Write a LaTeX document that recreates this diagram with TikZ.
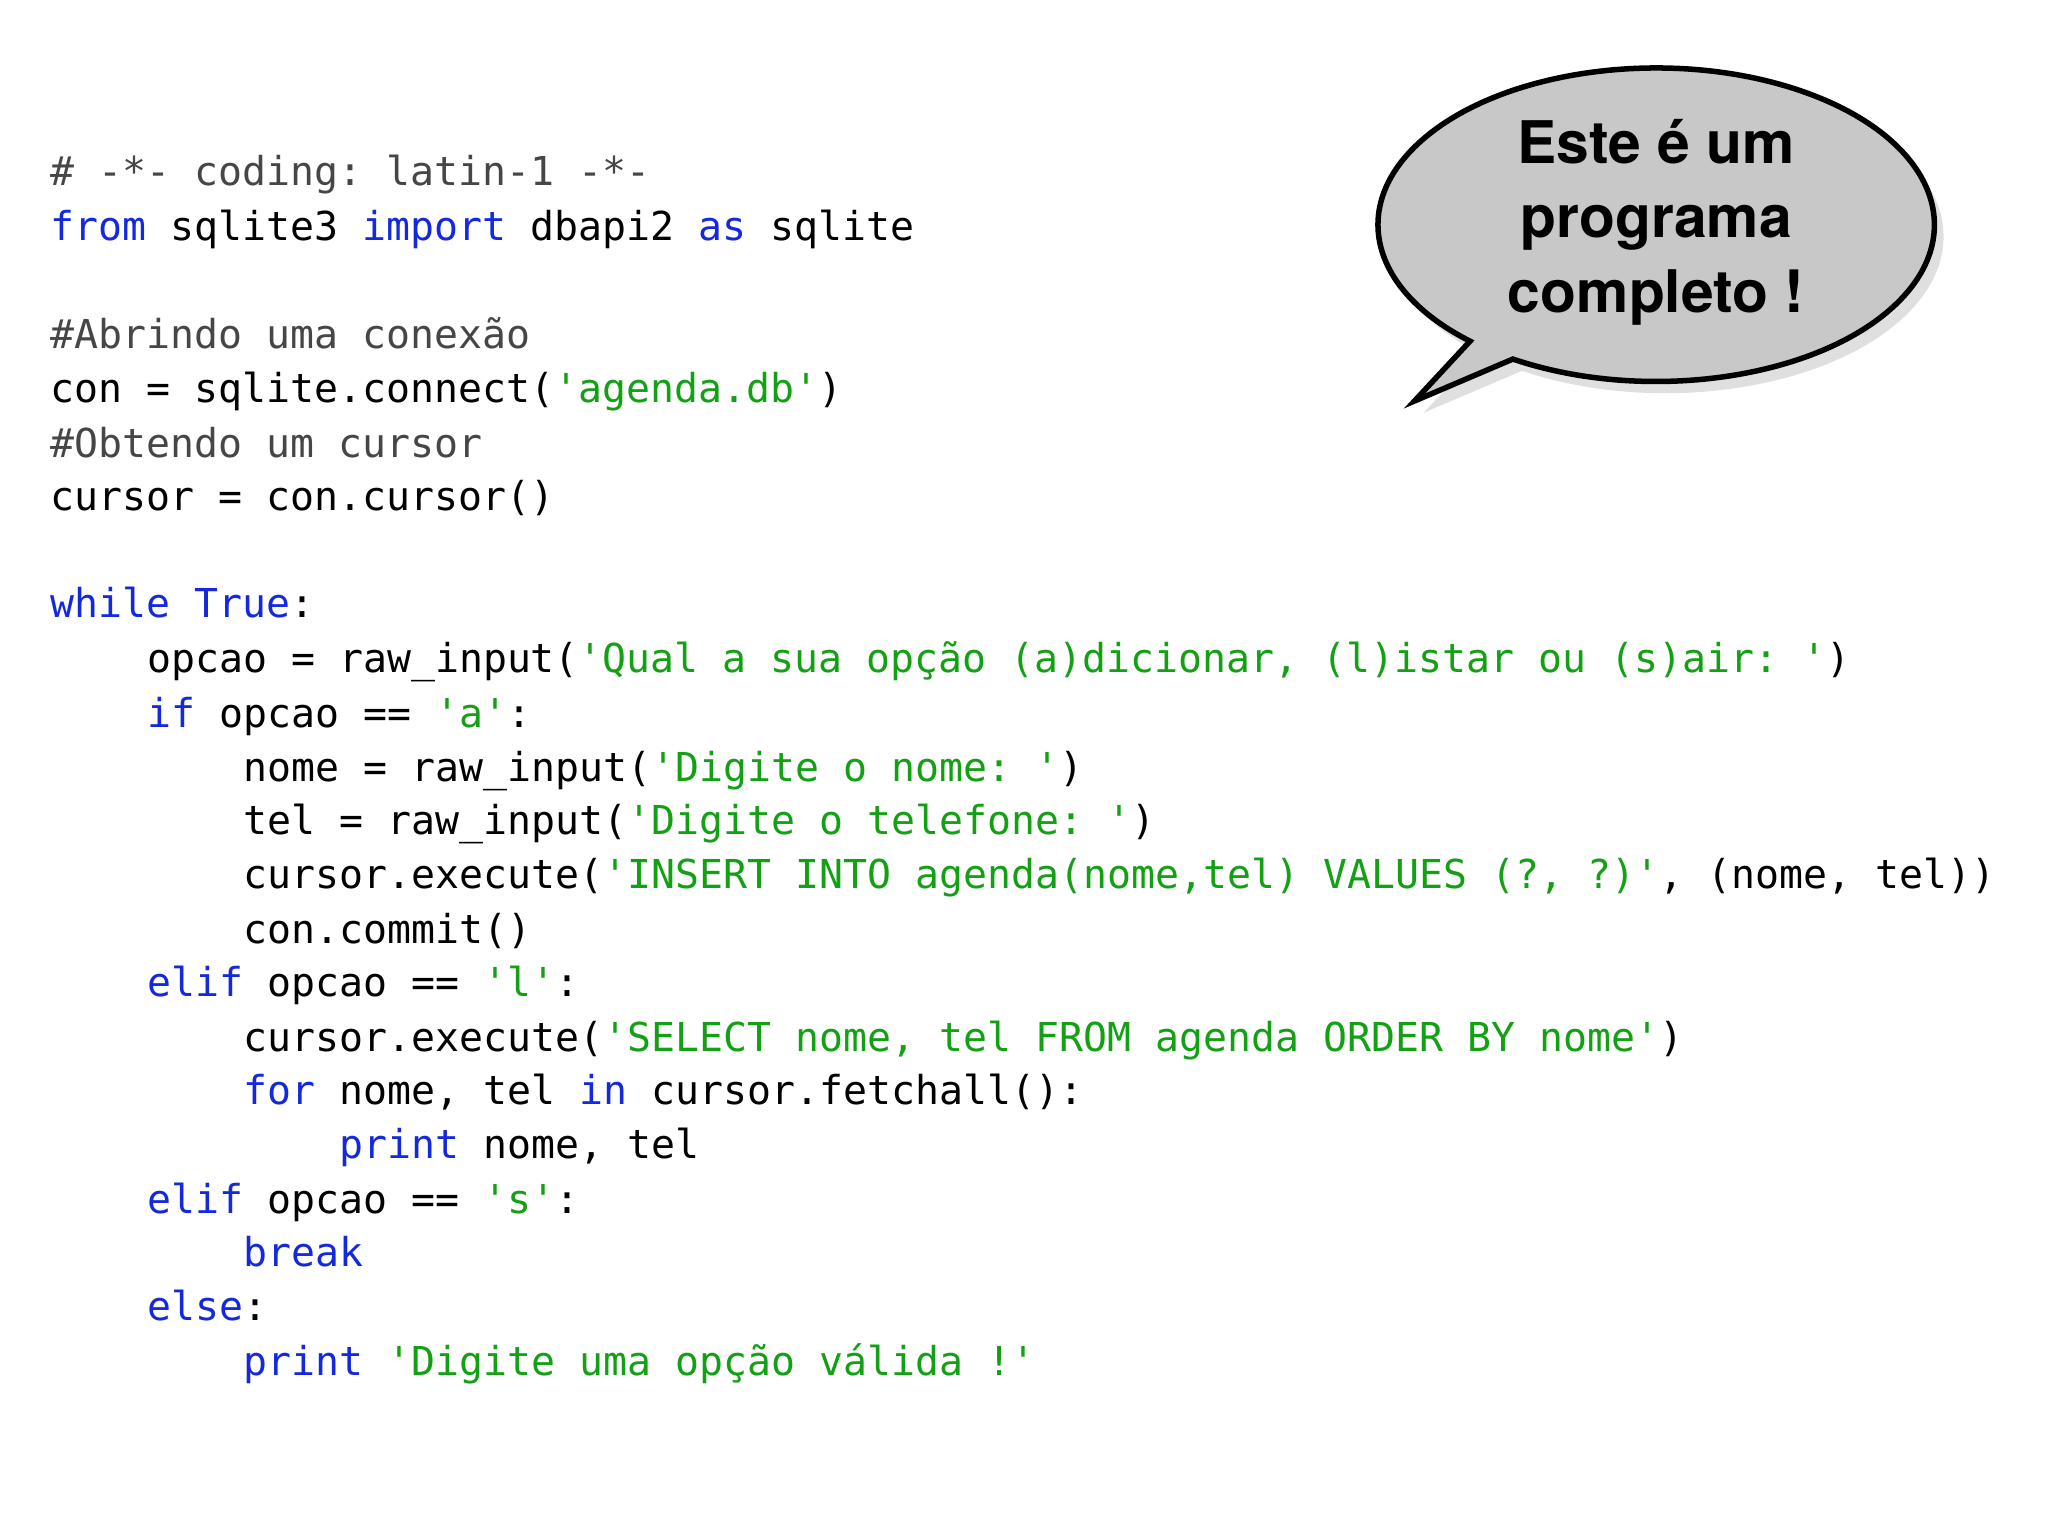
\documentclass[tikz,border=0pt]{standalone}
\usepackage{fontspec}
\setmonofont{DejaVu Sans Mono}
\newfontfamily\calloutfont{TeX Gyre Heros}
\usetikzlibrary{shadows}
\definecolor{kwc}{RGB}{20,40,220}
\definecolor{stc}{RGB}{20,160,20}
\definecolor{cmc}{RGB}{70,70,70}
\definecolor{bub}{RGB}{200,200,200}
\newcommand{\kw}[1]{\textcolor{kwc}{#1}}
\newcommand{\st}[1]{\textcolor{stc}{#1}}
\newcommand{\cmt}[1]{\textcolor{cmc}{#1}}
\tikzset{codeline/.style={anchor=base west,inner sep=0pt,font=\ttfamily\fontsize{8.68pt}{10pt}\selectfont}}
\begin{document}
\begin{tikzpicture}[x=0.1mm,y=0.1mm]
\useasboundingbox (0,0) rectangle (1568,-1176);
\node[codeline] (l1) at (38,-142) {\cmt{\# -*- coding: latin-1 -*-}};
\node[codeline] (l2) at (38,-184) {\kw{from} sqlite3 \kw{import} dbapi2 \kw{as} sqlite};
\node[codeline] (l3) at (38,-267) {\cmt{\#Abrindo uma conexão}};
\node[codeline] (l4) at (38,-308) {con = sqlite.connect(\st{'agenda.db'})};
\node[codeline] (l5) at (38,-350) {\cmt{\#Obtendo um cursor}};
\node[codeline] (l6) at (38,-391) {cursor = con.cursor()};
\node[codeline] (l7) at (38,-473) {\kw{while} \kw{True}:};
\node[codeline] (l8) at (112,-515) {opcao = raw\_input(\st{'Qual a sua opção (a)dicionar, (l)istar ou (s)air: '})};
\node[codeline] (l9) at (112,-557) {\kw{if} opcao == \st{'a'}:};
\node[codeline] (l10) at (186,-598) {nome = raw\_input(\st{'Digite o nome: '})};
\node[codeline] (l11) at (186,-639) {tel = raw\_input(\st{'Digite o telefone: '})};
\node[codeline] (l12) at (186,-680) {cursor.execute(\st{'INSERT INTO agenda(nome,tel) VALUES (?, ?)'}, (nome, tel))};
\node[codeline] (l13) at (186,-722) {con.commit()};
\node[codeline] (l14) at (112,-763) {\kw{elif} opcao == \st{'l'}:};
\node[codeline] (l15) at (186,-805) {cursor.execute(\st{'SELECT nome, tel FROM agenda ORDER BY nome'})};
\node[codeline] (l16) at (186,-846) {\kw{for} nome, tel \kw{in} cursor.fetchall():};
\node[codeline] (l17) at (259,-887) {\kw{print} nome, tel};
\node[codeline] (l18) at (112,-929) {\kw{elif} opcao == \st{'s'}:};
\node[codeline] (l19) at (186,-970) {\kw{break}};
\node[codeline] (l20) at (112,-1011) {\kw{else}:};
\node[codeline] (l21) at (186,-1053) {\kw{print} \st{'Digite uma opção válida !'}};
% callout
\draw[fill=bub,line width=1.2pt,drop shadow={shadow xshift=0.7mm,shadow yshift=-0.9mm,opacity=0.25}]
  (1158.3,-274.9) arc[start angle=239,end angle=588,x radius=21.3mm,y radius=12mm]
  -- (1083,-307) -- cycle;
\node[align=center,font=\calloutfont\bfseries\fontsize{12.8pt}{16.2pt}\selectfont] (bubtext) at (1268,-170) {Este é um\\programa\\completo !};
\end{tikzpicture}
\end{document}
